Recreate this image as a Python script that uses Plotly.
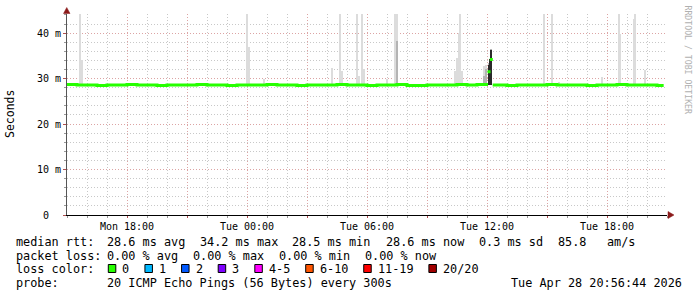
import plotly.graph_objects as go

# ---------------- data ----------------
MON = "2026-04-27 "
TUE = "2026-04-28 "

median_time = [MON + t for t in [
    "15:00", "15:30", "16:00", "16:30", "17:00", "17:30", "18:00", "18:30", "19:00",
    "19:30", "20:00", "20:30", "21:00", "21:30", "22:00", "22:30", "23:00", "23:30"]] + \
    [TUE + t for t in [
    "00:00", "00:30", "01:00", "01:30", "02:00", "02:30", "03:00", "03:30", "04:00",
    "04:30", "05:00", "05:30", "06:00", "06:30", "07:00", "07:30", "08:00", "08:30",
    "09:00", "09:30", "10:00", "10:30", "11:00", "11:30", "12:03", "12:04", "12:17",
    "12:30", "13:00", "13:30", "14:00", "14:30", "15:00", "15:30", "16:00", "16:30",
    "17:00", "17:30", "18:00", "18:30", "19:00", "19:30", "20:00", "20:30", "20:50"]]
median_ms = [
    28.7, 28.6, 28.6, 28.5, 28.6, 28.6, 28.7, 28.6, 28.6,
    28.5, 28.6, 28.6, 28.6, 28.7, 28.6, 28.6, 28.5, 28.6,
    28.6, 28.6, 28.7, 28.6, 28.6, 28.5, 28.6, 28.6, 28.6,
    28.7, 28.6, 28.6, 28.5, 28.6, 28.6, 28.7, 28.5, 28.5,
    28.6, 28.6, 28.6, 28.7, 28.6, 28.7, 28.7, None, 28.6,
    28.6, 28.5, 28.6, 28.6, 28.6, 28.7, 28.6, 28.6, 28.6,
    28.5, 28.6, 28.6, 28.7, 28.6, 28.6, 28.6, 28.5, 28.5]

# smoke (spread of the 20 pings) per 5-minute step
smoke_time = [MON + "15:40", MON + "15:45", TUE + "00:00", TUE + "00:05", TUE + "00:50",
              TUE + "04:15", TUE + "04:40", TUE + "04:45", TUE + "05:30", TUE + "05:35",
              TUE + "05:45", TUE + "05:50", TUE + "07:00", TUE + "07:25", TUE + "07:30",
              TUE + "10:25", TUE + "10:30", TUE + "10:35", TUE + "10:40", TUE + "10:45",
              TUE + "11:51", TUE + "11:57", TUE + "12:06", TUE + "12:10", TUE + "12:13",
              TUE + "14:50", TUE + "15:15", TUE + "15:35", TUE + "17:45", TUE + "18:35",
              TUE + "18:40", TUE + "19:20", TUE + "19:25", TUE + "19:55"]
smoke_min = [28.4] * 20 + [28.4, 28.4, 28.5, 28.5, 28.5] + [28.4] * 9
smoke_max = [46.0, 34.0, 46.0, 37.0, 30.0,
             32.3, 46.0, 31.7, 46.0, 30.6,
             46.0, 32.0, 29.8, 46.0, 46.0,
             31.7, 34.5, 40.0, 46.0, 31.7,
             32.8, 33.0, 33.5, 34.2, 36.6,
             46.0, 46.0, 29.3, 30.4, 46.0,
             39.8, 43.0, 46.0, 31.9]
smoke_mid = [None, None, None, None, None,
             None, None, None, None, None,
             None, None, None, None, 38.3,
             None, None, None, None, None,
             30.5, 32.0, 33.4, 34.2, 36.5,
             None, None, None, None, None,
             None, None, None, None]
smoke_core = [None] * 22 + [33.0, 34.2, 36.3] + [None] * 9

spike_median_time = [TUE + "12:06", TUE + "12:13"]
spike_median_ms = [31.5, 34.2]

x_range = [MON + "15:00", TUE + "21:00"]
x_tick_vals = [MON + "18:00", MON + "21:00", TUE + "00:00", TUE + "03:00", TUE + "06:00",
               TUE + "09:00", TUE + "12:00", TUE + "15:00", TUE + "18:00"]
x_tick_text = ["Mon 18:00", "", "Tue 00:00", "", "Tue 06:00", "", "Tue 12:00", "", "Tue 18:00"]
y_tick_vals = [0, 10, 20, 30, 40]
y_tick_text = ["0\u00a0\u00a0", "10 m", "20 m", "30 m", "40 m"]

rtt_label = "median rtt:"
rtt_items = ["28.6 ms avg", "34.2 ms max", "28.5 ms min", "28.6 ms now", "0.3 ms sd", "85.8", "am/s"]
loss_label = "packet loss:"
loss_items = ["0.00 % avg", "0.00 % max", "0.00 % min", "0.00 % now"]
color_label = "loss color:"
loss_labels = ["0", "1", "2", "3", "4-5", "6-10", "11-19", "20/20"]
loss_colors = ["#26ff00", "#00b8ff", "#0059ff", "#7e00ff", "#ff00ff", "#ff5500", "#ff0000", "#a10000"]
probe_label = "probe:"
probe_text = "20 ICMP Echo Pings (56 Bytes) every 300s"
stamp_text = "Tue Apr 28 20:56:44 2026"

# ---------------- layout helpers ----------------
W, H = 697, 297
L, R, T, B = 67, 30, 14, 82
PW, PH = W - L - R, H - T - B
MONO = "DejaVu Sans Mono"
MAJ = "#dca4a4"
MIN = "#c8c8c8"

rtt_x = [107.3, 200.0, 292.7, 386.0, 479.3, 558.3, 607.7]
loss_x = [107.3, 193.3, 279.3, 365.0]


def fx(px):
    return (px - L) / PW


def fy(py):
    return (H - B - py) / PH


def nb(s):
    return s.replace(" ", "\u00a0")


fig = go.Figure()


def add_smoke(vals, color):
    xs, lo, hi = [], [], []
    for t, l, v in zip(smoke_time, smoke_min, vals):
        if v is not None:
            xs.append(t)
            lo.append(l)
            hi.append(v - l)
    fig.add_trace(go.Bar(x=xs, y=hi, base=lo, width=[390000] * len(xs),
                         marker=dict(color=color, line=dict(width=0)),
                         hoverinfo="skip", showlegend=False))


add_smoke(smoke_max, "#dcdcdc")
add_smoke(smoke_mid, "#b4b4b4")
add_smoke(smoke_core, "#2a2a2a")

fig.add_trace(go.Scatter(x=median_time, y=median_ms, mode="lines",
                         line=dict(color=loss_colors[0], width=3, shape="hv"),
                         connectgaps=False, hoverinfo="skip", showlegend=False))
fig.add_trace(go.Scatter(x=spike_median_time, y=spike_median_ms, mode="markers",
                         marker=dict(color=loss_colors[0], size=3, symbol="square",
                                     line=dict(width=0)),
                         hoverinfo="skip", showlegend=False))

fig.update_layout(
    width=W, height=H, template="none",
    margin=dict(l=L, r=R, t=T, b=B, pad=0),
    paper_bgcolor="white", plot_bgcolor="white",
    barmode="overlay", bargap=0, showlegend=False,
    font=dict(family=MONO, size=10, color="#000"),
    xaxis=dict(type="date", range=x_range, automargin=False,
               tickmode="array", tickvals=x_tick_vals, ticktext=x_tick_text,
               showgrid=True, gridcolor=MAJ, griddash="1px,2px", gridwidth=1,
               ticks="outside", ticklen=2, tickcolor="#b05050",
               tickfont=dict(family=MONO, size=10, color="#000"),
               showline=True, linecolor="#000", linewidth=1, zeroline=False,
               minor=dict(tickmode="linear", tick0=x_range[0], dtick=3600000,
                          showgrid=True, gridcolor=MIN, griddash="1px,2px",
                          ticks="outside", ticklen=2, tickcolor="#999")),
    yaxis=dict(range=[0, 44.2], automargin=False,
               tickmode="array", tickvals=y_tick_vals, ticktext=y_tick_text,
               showgrid=True, gridcolor=MAJ, griddash="1px,2px", gridwidth=1,
               ticks="outside", ticklen=3, tickcolor="#b05050",
               tickfont=dict(family=MONO, size=10, color="#000"),
               showline=True, linecolor="#555", linewidth=1, zeroline=False,
               minor=dict(tickmode="linear", tick0=0, dtick=2,
                          showgrid=True, gridcolor=MIN, griddash="1px,2px",
                          ticks="outside", ticklen=2, tickcolor="#999")),
)

ann = []
LEG = 11.84


def text(px, py, s, size=LEG, anchor="left", color="#000", angle=0):
    ann.append(dict(x=fx(px), y=fy(py), xref="paper", yref="paper", text=nb(s),
                    showarrow=False, xanchor=anchor, yanchor="middle",
                    font=dict(family=MONO, size=size, color=color),
                    borderpad=0, borderwidth=0, textangle=angle))


Y1, Y2, Y3, Y4 = 241.5, 255.5, 269.0, 283.0
text(15.5, Y1, rtt_label)
for px_, s in zip(rtt_x, rtt_items):
    text(px_ - 0.5, Y1, s)
text(15.5, Y2, loss_label)
for px_, s in zip(loss_x, loss_items):
    text(px_ - 0.5, Y2, s)
text(15.5, Y3, color_label)
text(15.5, Y4, probe_label)
text(106.8, Y4, probe_text)
text(681.5, Y4, stamp_text, anchor="right")

shapes = []
bx = 108.3
CW = 7.13
for lab, col in zip(loss_labels, loss_colors):
    shapes.append(dict(type="rect", xref="paper", yref="paper",
                       x0=fx(bx), x1=fx(bx + 7.5), y0=fy(272.5), y1=fy(264.5),
                       fillcolor=col, line=dict(color="#000", width=1), layer="above"))
    text(bx + 14, Y3, lab)
    bx += 14.5 + len(lab) * CW + 15

# y axis title and watermark
text(10, 114, "Seconds", size=11.5, anchor="center", angle=-90)
text(687.5, 60, "RRDTOOL / TOBI OETIKER", size=8.2, anchor="center", color="#b0b0b0", angle=90)

# axis arrows
shapes.append(dict(type="path", xref="paper", yref="paper",
                   path="M %f,%f L %f,%f L %f,%f Z" % (fx(668), fy(211.5), fx(668), fy(218.5),
                                                      fx(674), fy(215)),
                   fillcolor="#8b1a1a", line=dict(color="#8b1a1a", width=0.5), layer="above"))
shapes.append(dict(type="path", xref="paper", yref="paper",
                   path="M %f,%f L %f,%f L %f,%f Z" % (fx(63.5), fy(13.5), fx(70), fy(13.5),
                                                      fx(66.75), fy(7.5)),
                   fillcolor="#8b1a1a", line=dict(color="#8b1a1a", width=0.5), layer="above"))

fig.update_layout(annotations=ann, shapes=shapes)
fig.write_html("out.html")
